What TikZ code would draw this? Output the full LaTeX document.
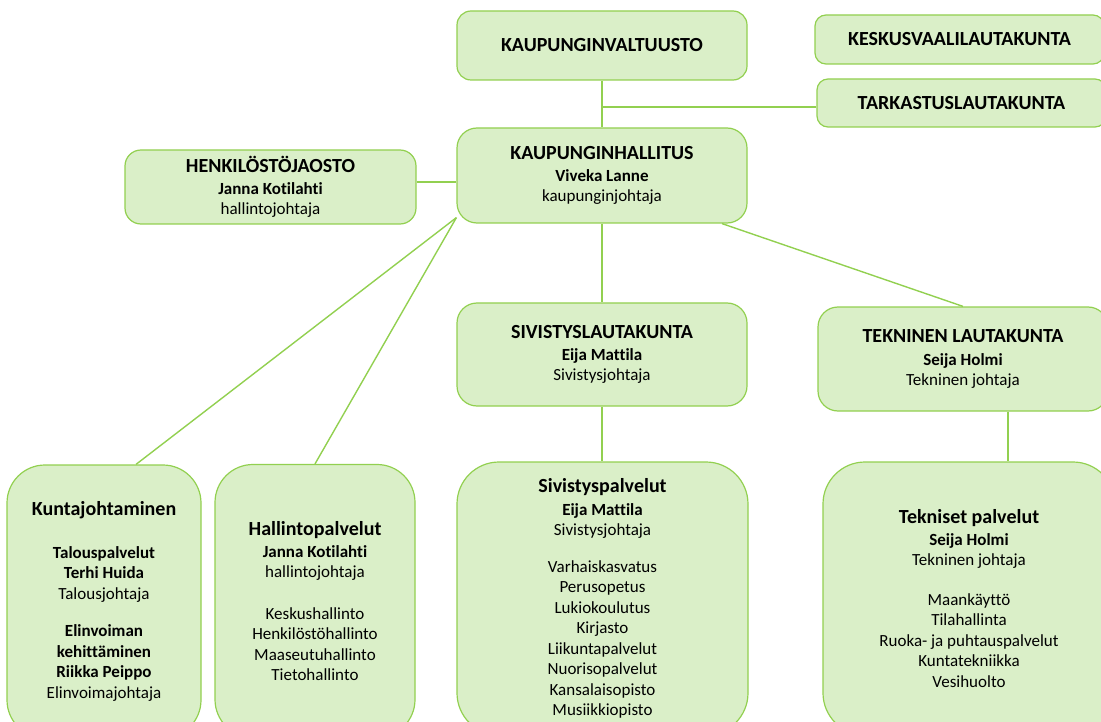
\documentclass[tikz,border=0pt]{standalone}
\usepackage{fontspec}
\setmainfont{Carlito}[Ligatures=CommonOff]
\usepackage{tikz}
\usetikzlibrary{calc, positioning}
\usepackage{xcolor}
\definecolor{LeafGreen}{HTML}{92D050}
\definecolor{LiteGreen}{HTML}{DAEFC8}
\newcommand{\OrgTitle}[1]{{\fontsize{20}{22}\selectfont\bfseries #1}}
\tikzset{%
  org_block/.style={%
    rectangle,%
    draw=LeafGreen,%
    fill=LiteGreen,%
    line width=1.2pt,%
    rounded corners=14pt,%
    align=center,%
    inner sep=0pt,%
    font={\fontsize{17}{20.5}\selectfont},%
  },
  org_big_block/.style={%
    org_block,%
    rounded corners=42pt,%
    minimum height=273pt,%
  },
  org_path/.style={%
    draw=LeafGreen,%
    line width=1.4pt,%
    line join=round,%
  },
}

\begin{document}
\begin{tikzpicture}[x=1pt, y=-1pt]

    \useasboundingbox (0, 0) rectangle (1101, 722);

    % council level
    \node [org_block, minimum width=290pt, minimum height=69pt]
      (Valtuusto) at (602, 45.5) {\OrgTitle{KAUPUNGINVALTUUSTO}};
    \node [org_block, rounded corners=11pt, minimum width=289pt, minimum height=49pt]
      (Vaali) at (959.5, 39.5) {\OrgTitle{KESKUSVAALILAUTAKUNTA}};
    \node [org_block, rounded corners=11pt, minimum width=289pt, minimum height=48pt]
      (Tarkastus) at (961.5, 103) {\OrgTitle{TARKASTUSLAUTAKUNTA}};

    % board level
    \node [org_block, rounded corners=20pt, minimum width=290pt, minimum height=95pt]
      (Hallitus) at (602, 175.5)
      {\OrgTitle{KAUPUNGINHALLITUS}\\[1.5pt]
       \textbf{Viveka Lanne}\\ kaupunginjohtaja};
    \node [org_block, rounded corners=16pt, minimum width=291pt, minimum height=74pt]
      (Jaosto) at (270.5, 187)
      {\OrgTitle{HENKILÖSTÖJAOSTO}\\[1.5pt]
       \textbf{Janna Kotilahti}\\ hallintojohtaja};

    % committees
    \node [org_block, rounded corners=20pt, minimum width=290pt, minimum height=103pt]
      (Sivistys) at (602, 354.5)
      {\OrgTitle{SIVISTYSLAUTAKUNTA}\\[1.5pt]
       \textbf{Eija Mattila}\\ Sivistysjohtaja};
    \node [org_block, rounded corners=20pt, minimum width=290pt, minimum height=104pt]
      (Tekninen) at (963, 359)
      {\OrgTitle{TEKNINEN LAUTAKUNTA}\\[2pt]
       \textbf{Seija Holmi}\\ Tekninen johtaja};

    % service units
    \node [org_big_block, rounded corners=38pt, minimum width=194pt]
      (Kunta) at (104, 601.5)
      {\OrgTitle{Kuntajohtaminen}\\[22pt]
       \textbf{Talouspalvelut}\\ \textbf{Terhi Huida}\\ Talousjohtaja\\[17pt]
       \textbf{Elinvoiman}\\ \textbf{kehittäminen}\\ \textbf{Riikka Peippo}\\
       Elinvoimajohtaja};
    \node [org_big_block, rounded corners=38pt, minimum width=200pt]
      (Hallinto) at (315, 601)
      {\OrgTitle{Hallintopalvelut}\\[1.5pt]
       \textbf{Janna Kotilahti}\\ hallintojohtaja\\[21pt]
       Keskushallinto\\ Henkilöstöhallinto\\ Maaseutuhallinto\\ Tietohallinto};
    \node [org_big_block, minimum width=291pt]
      (Sivpalv) at (602.5, 598.5)
      {\OrgTitle{Sivistyspalvelut}\\[2pt]
       \textbf{Eija Mattila}\\ Sivistysjohtaja\\[16pt]
       Varhaiskasvatus\\ Perusopetus\\ Lukiokoulutus\\ Kirjasto\\
       Liikuntapalvelut\\ Nuorisopalvelut\\ Kansalaisopisto\\ Musiikkiopisto};
    \node [org_big_block, minimum width=292pt]
      (Tekpalv) at (969, 598.5)
      {\OrgTitle{Tekniset palvelut}\\[1.5pt]
       \textbf{Seija Holmi}\\ Tekninen johtaja\\[19pt]
       Maankäyttö\\ Tilahallinta\\ Ruoka- ja puhtauspalvelut\\
       Kuntatekniikka\\ Vesihuolto};

    \coordinate (tark_join) at ($(Valtuusto.south)!0.56!(Hallitus.north)$);
    \coordinate (fan_root) at ([yshift=6pt]Hallitus.south west);

    \draw [org_path] (Valtuusto.south) -- (Hallitus.north);
    \draw [org_path] (tark_join) -- (tark_join -| Tarkastus.west);
    \draw [org_path]
      ([yshift=5pt]Jaosto.east)
      --
      ([yshift=5pt]Jaosto.east -| Hallitus.west);
    \draw [org_path] (Hallitus.south) -- (Sivistys.north);
    \draw [org_path] ([xshift=120pt]Hallitus.south) -- (Tekninen.north);
    \draw [org_path] (fan_root) -- ([xshift=32pt]Kunta.north);
    \draw [org_path] (fan_root) -- (Hallinto.north);
    \draw [org_path] (Sivistys.south) -- (Sivistys.south |- Sivpalv.north);
    \draw [org_path]
      ([xshift=45pt]Tekninen.south)
      --
      ([xshift=45pt]Tekninen.south |- Tekpalv.north);
  \end{tikzpicture}
\end{document}
